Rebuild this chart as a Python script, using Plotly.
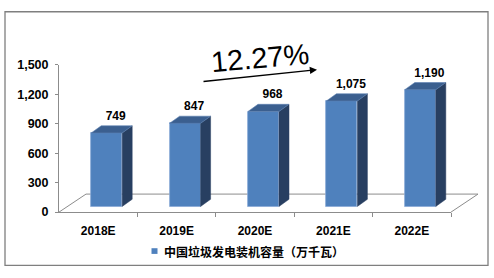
import plotly.graph_objects as go

# ---- data ----
categories = ["2018E", "2019E", "2020E", "2021E", "2022E"]
capacity = [749, 847, 968, 1075, 1190]
y_ticks = [0, 300, 600, 900, 1200, 1500]
series_name = "中国垃圾发电装机容量（万千瓦）"
cagr_text = "12.27%"

# ---- layout geometry (pixels) ----
W, H = 494, 278
AX_L, AX_R = 59, 451      # x pixel of x=-0.5 and x=4.5
AX_B, AX_T = 216, 61      # y pixel of y=0 and y=1500
PXC = (AX_R - AX_L) / len(categories)   # px per category
PXU = (AX_B - AX_T) / 1500.0            # px per unit

# 3D emulation sizes (pixels)
BAR_OFF_PX, BAR_W_PX = 8.5, 31
DX_PX, DY_PX = 10, 7.5
BASE_PX = 6
FLOOR_DX, FLOOR_DY = 27, 19
LABEL_DX_PX, LABEL_DY_PX = 9, 3

BAR_OFF = BAR_OFF_PX / PXC
BAR_W = BAR_W_PX / PXC
DX = DX_PX / PXC
DY = DY_PX / PXU
BASE = BASE_PX / PXU

FRONT = "#4F81BD"
SIDE = "#283F61"
TOP = "#3B5F8F"
GRID = "#8C8C8C"

idx = list(range(len(categories)))

fig = go.Figure()

# floor (on full-paper helper axes x/y)
fx0 = -0.5
fx1 = len(categories) - 0.5
fdx = FLOOR_DX / PXC
fdy = FLOOR_DY / PXU
fig.add_trace(go.Scatter(
    x=[fx0, fx0 + fdx, fx1 + fdx, fx1], y=[0, fdy, fdy, 0],
    mode="lines", line=dict(color=GRID, width=1), hoverinfo="skip",
    showlegend=False, xaxis="x", yaxis="y"))

# side and top faces
sx, sy, tx, ty = [], [], [], []
for i, v in zip(idx, capacity):
    xr = i + BAR_OFF + BAR_W / 2
    xl = xr - BAR_W
    y0 = BASE
    yt = BASE + v
    sx += [xr, xr + DX, xr + DX, xr, xr, None]
    sy += [y0, y0 + DY, yt + DY, yt, y0, None]
    tx += [xl, xr, xr + DX, xl + DX, xl, None]
    ty += [yt, yt, yt + DY, yt + DY, yt, None]

fig.add_trace(go.Scatter(x=sx, y=sy, mode="lines", fill="toself", fillcolor=SIDE,
                         line=dict(color=SIDE, width=0.5), hoverinfo="skip",
                         showlegend=False, xaxis="x2", yaxis="y2"))
fig.add_trace(go.Scatter(x=tx, y=ty, mode="lines", fill="toself", fillcolor=TOP,
                         line=dict(color="#5A7FB0", width=0.6), hoverinfo="skip",
                         showlegend=False, xaxis="x2", yaxis="y2"))

# front faces
fig.add_trace(go.Bar(
    x=[i + BAR_OFF for i in idx], y=capacity, base=BASE, width=BAR_W,
    marker=dict(color=FRONT, line=dict(color="#8AAAD6", width=0.8)),
    name=series_name, showlegend=False, xaxis="x2", yaxis="y2"))

# value labels
fig.add_trace(go.Scatter(
    x=[i + BAR_OFF + LABEL_DX_PX / PXC for i in idx],
    y=[BASE + v + DY + LABEL_DY_PX / PXU for v in capacity],
    text=[f"{v:,}" for v in capacity], mode="text", textposition="top center",
    textfont=dict(family="Liberation Sans, Arial", size=12, color="black",
                  weight="bold"),
    cliponaxis=False, hoverinfo="skip", showlegend=False,
    xaxis="x2", yaxis="y2"))

fig.update_layout(
    width=W, height=H, margin=dict(l=0, r=0, t=0, b=0),
    paper_bgcolor="white", plot_bgcolor="rgba(0,0,0,0)",
    showlegend=False,
    bargap=0,
    xaxis=dict(domain=[0, 1], range=[-0.5 - AX_L / PXC, -0.5 + (W - AX_L) / PXC],
               visible=False, fixedrange=True),
    yaxis=dict(domain=[0, 1], range=[-(H - AX_B) / PXU, AX_B / PXU],
               visible=False, fixedrange=True),
    xaxis2=dict(domain=[AX_L / W, AX_R / W], range=[-0.5, len(categories) - 0.5],
                anchor="y2", showgrid=False, zeroline=False,
                showline=True, linecolor=GRID, linewidth=1,
                tickvals=idx, ticktext=categories, ticks="",
                minor=dict(tickvals=[i + 0.5 for i in idx], ticks="outside",
                           ticklen=4, tickcolor=GRID, showgrid=False),
                tickfont=dict(family="Liberation Sans, Arial", size=12,
                              color="black", weight="bold"),
                ticklabelstandoff=7),
    yaxis2=dict(domain=[(H - AX_B) / H, (H - AX_T) / H], range=[0, 1500],
                anchor="x2", showgrid=False, zeroline=False,
                showline=True, linecolor=GRID, linewidth=1,
                tickvals=y_ticks, tickformat=",", ticks="outside",
                ticklen=3, tickcolor=GRID,
                tickfont=dict(family="Liberation Sans, Arial", size=12.5,
                              color="black", weight="bold"),
                ticklabelstandoff=4),
    shapes=[
        dict(type="rect", xref="paper", yref="paper",
             x0=5 / W, x1=488 / W, y0=1 - 272 / H, y1=1 - 5 / H,
             line=dict(color="#7F7F7F", width=1.3), fillcolor="rgba(0,0,0,0)"),
        dict(type="rect", xref="paper", yref="paper",
             x0=151.5 / W, x1=157.5 / W, y0=1 - 260 / H, y1=1 - 254 / H,
             line=dict(width=0), fillcolor=FRONT),
    ],
    annotations=[
        dict(text=series_name, xref="paper", yref="paper",
             x=162 / W, y=1 - 257 / H, xanchor="left", yanchor="middle",
             showarrow=False,
             font=dict(family="Noto Sans CJK SC", size=12, color="black",
                       weight="bold")),
        dict(text=cagr_text, xref="paper", yref="paper",
             x=260 / W, y=1 - 54 / H, xanchor="center", yanchor="middle",
             textangle=-5, showarrow=False,
             font=dict(family="Liberation Sans, Arial", size=29, color="black")),
        dict(text="", xref="paper", yref="paper",
             x=317 / W, y=1 - 66 / H, ax=-115, ay=12, showarrow=True,
             arrowhead=2, arrowsize=1.1, arrowwidth=1.3, arrowcolor="black",
             standoff=0),
    ],
)

fig.write_html("out.html")
